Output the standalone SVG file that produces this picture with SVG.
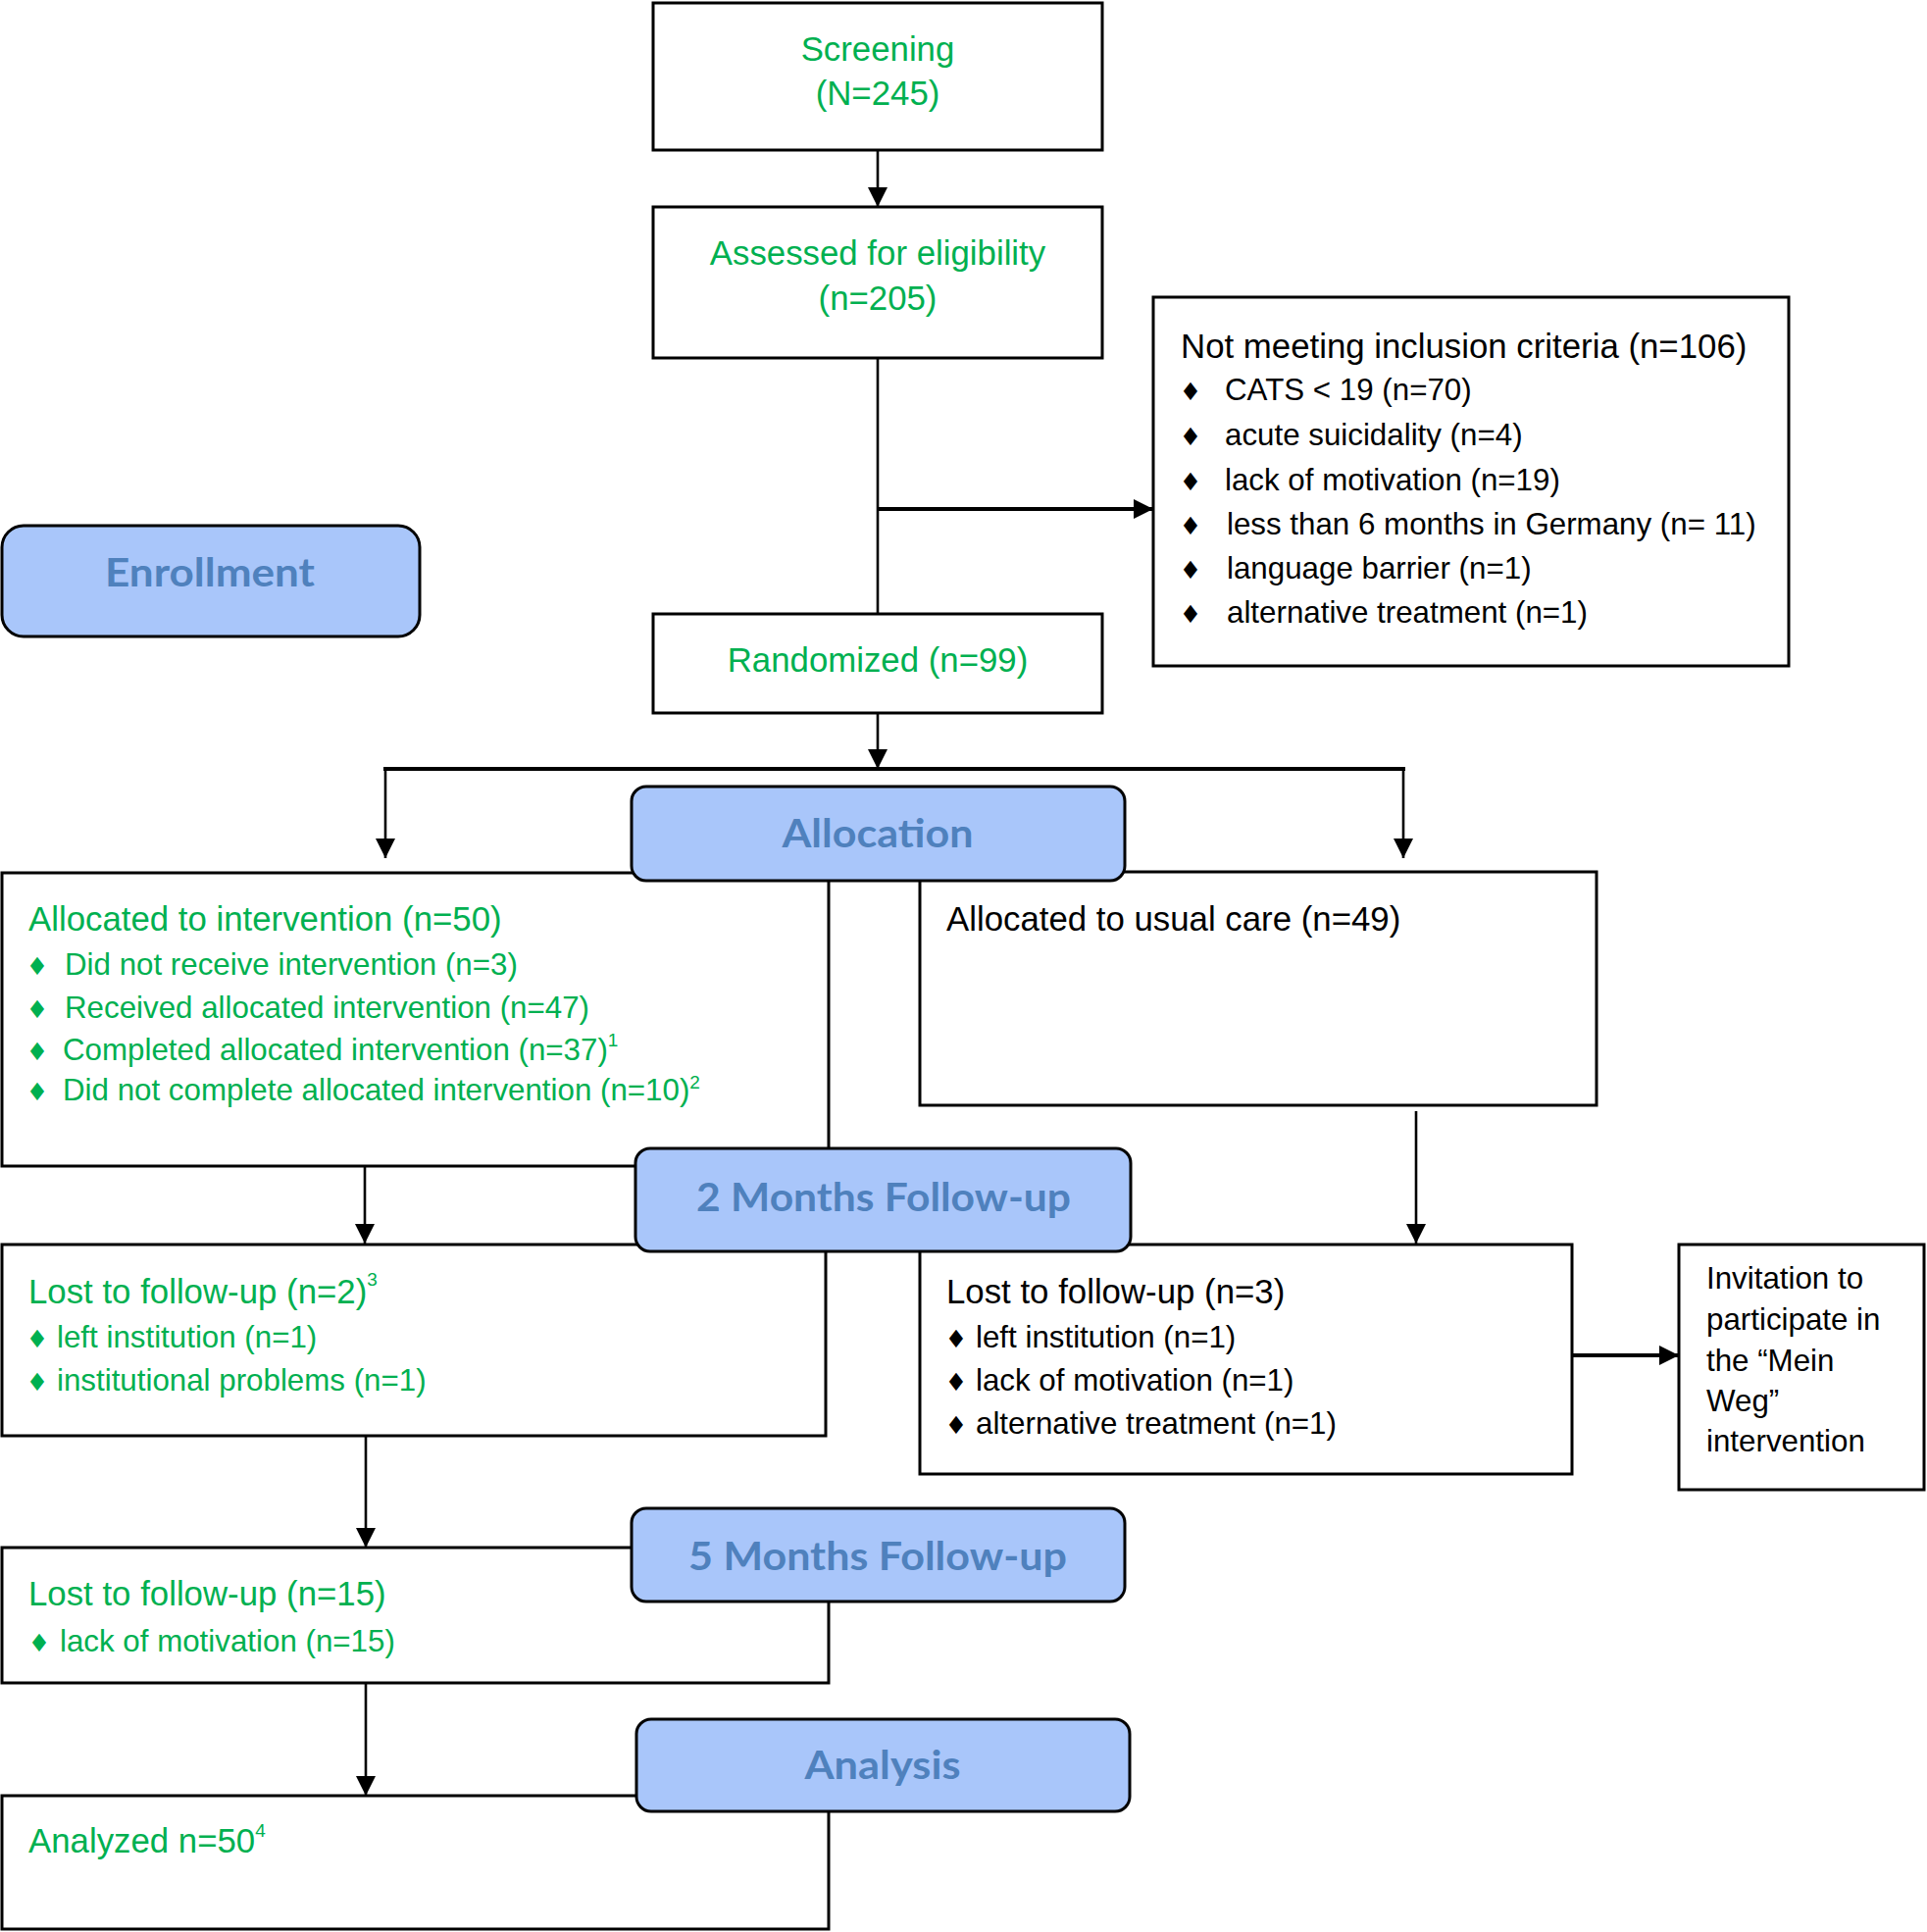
<svg xmlns="http://www.w3.org/2000/svg" xmlns:xlink="http://www.w3.org/1999/xlink" width="1965" height="1970" viewBox="0 0 1965 1970">
<style>
.box{fill:#fff;stroke:#000;stroke-width:3}
.hdr{fill:#A9C6FA;stroke:#000;stroke-width:3}
.ht{font-family:Lato,"Open Sans",sans-serif;font-weight:700;font-size:41px;fill:#4F81BD;text-anchor:middle}
.t{font-family:"Liberation Sans",Arial,sans-serif;font-size:34.8px}
.s{font-family:"Liberation Sans",Arial,sans-serif;font-size:31.3px}
.g{fill:#00B050}
.k{fill:#000}
.c{text-anchor:middle}
.b{font-family:"DejaVu Sans",sans-serif;font-size:25px;text-anchor:middle}
.ln{fill:none;stroke:#000;stroke-width:2.6}
.lt{fill:none;stroke:#000;stroke-width:4}
</style>
<defs>
<marker id="ah" markerWidth="20" markerHeight="20" refX="20" refY="10" orient="auto" markerUnits="userSpaceOnUse"><path d="M0,0 L20,10 L0,20 Z" fill="#000"/></marker>
</defs>

<g id="screening">
<rect class="box" x="666" y="3" width="458" height="150"/>
<text class="t g c" x="895" y="62">Screening</text>
<text class="t g c" x="895" y="107">(N=245)</text>
</g>

<g id="assessed">
<rect class="box" x="666" y="211" width="458" height="154"/>
<text class="t g c" x="895" y="270">Assessed for eligibility</text>
<text class="t g c" x="895" y="316">(n=205)</text>
</g>

<g id="not-meeting">
<rect class="box" x="1176" y="303" width="648" height="376"/>
<text class="t k" x="1204" y="365">Not meeting inclusion criteria (n=106)</text>
<text class="b k" x="1214" y="408">♦</text><text class="s k" x="1249" y="408">CATS &lt; 19 (n=70)</text>
<text class="b k" x="1214" y="454">♦</text><text class="s k" x="1249" y="454">acute suicidality (n=4)</text>
<text class="b k" x="1214" y="500">♦</text><text class="s k" x="1249" y="500">lack of motivation (n=19)</text>
<text class="b k" x="1214" y="545">♦</text><text class="s k" x="1251" y="545">less than 6 months in Germany (n= 11)</text>
<text class="b k" x="1214" y="590">♦</text><text class="s k" x="1251" y="590">language barrier (n=1)</text>
<text class="b k" x="1214" y="635">♦</text><text class="s k" x="1251" y="635">alternative treatment (n=1)</text>
</g>

<g id="enrollment">
<rect class="hdr" x="2" y="536" width="426" height="113" rx="22"/>
<text class="ht" x="214" y="598" textLength="214" lengthAdjust="spacingAndGlyphs">Enrollment</text>
</g>

<g id="randomized">
<rect class="box" x="666" y="626" width="458" height="101"/>
<text class="t g c" x="895" y="685">Randomized (n=99)</text>
</g>

<g id="allocated-intervention">
<rect class="box" x="2" y="890" width="843" height="299"/>
<text class="t g" x="29" y="949">Allocated to intervention (n=50)</text>
<text class="b g" x="38" y="994">♦</text><text class="s g" x="66" y="994">Did not receive intervention (n=3)</text>
<text class="b g" x="38" y="1038">♦</text><text class="s g" x="66" y="1038">Received allocated intervention (n=47)</text>
<text class="b g" x="38" y="1081">♦</text><text class="s g" x="64" y="1081">Completed allocated intervention (n=37)<tspan font-size="19" dy="-14">1</tspan></text>
<text class="b g" x="38" y="1122">♦</text><text class="s g" x="64" y="1122">Did not complete allocated intervention (n=10)<tspan font-size="19" dy="-12">2</tspan></text>
</g>

<g id="usual-care">
<rect class="box" x="938" y="889" width="690" height="238"/>
<text class="t k" x="965" y="949">Allocated to usual care (n=49)</text>
</g>

<g id="lost-left">
<rect class="box" x="2" y="1269" width="840" height="195"/>
<text class="t g" x="29" y="1329">Lost to follow-up (n=2)<tspan font-size="19" dy="-18">3</tspan></text>
<text class="b g" x="38" y="1374">♦</text><text class="s g" x="58" y="1374">left institution (n=1)</text>
<text class="b g" x="38" y="1418">♦</text><text class="s g" x="58" y="1418">institutional problems (n=1)</text>
</g>

<g id="lost-right">
<rect class="box" x="938" y="1269" width="665" height="234"/>
<text class="t k" x="965" y="1329">Lost to follow-up (n=3)</text>
<text class="b k" x="975" y="1374">♦</text><text class="s k" x="995" y="1374">left institution (n=1)</text>
<text class="b k" x="975" y="1418">♦</text><text class="s k" x="995" y="1418">lack of motivation (n=1)</text>
<text class="b k" x="975" y="1462">♦</text><text class="s k" x="995" y="1462">alternative treatment (n=1)</text>
</g>

<g id="invitation">
<rect class="box" x="1712" y="1269" width="250" height="250"/>
<text class="s k" x="1740" y="1314">Invitation to</text>
<text class="s k" x="1740" y="1356">participate in</text>
<text class="s k" x="1740" y="1398">the “Mein</text>
<text class="s k" x="1740" y="1439">Weg”</text>
<text class="s k" x="1740" y="1480">intervention</text>
</g>

<g id="lost-15">
<rect class="box" x="2" y="1578" width="843" height="138"/>
<text class="t g" x="29" y="1637">Lost to follow-up (n=15)</text>
<text class="b g" x="40" y="1684">♦</text><text class="s g" x="61" y="1684">lack of motivation (n=15)</text>
</g>

<g id="analyzed">
<rect class="box" x="2" y="1831" width="843" height="136"/>
<text class="t g" x="29" y="1889">Analyzed n=50<tspan font-size="19" dy="-16">4</tspan></text>
</g>

<g id="allocation">
<rect class="hdr" x="644" y="802" width="503" height="96" rx="15"/>
<text class="ht" x="895" y="864" textLength="195" lengthAdjust="spacingAndGlyphs">Allocation</text>
</g>

<g id="followup-2">
<rect class="hdr" x="648" y="1171" width="505" height="105" rx="15"/>
<text class="ht" x="901" y="1235" textLength="382" lengthAdjust="spacingAndGlyphs">2 Months Follow-up</text>
</g>

<g id="followup-5">
<rect class="hdr" x="644" y="1538" width="503" height="95" rx="15"/>
<text class="ht" x="895" y="1601" textLength="386" lengthAdjust="spacingAndGlyphs">5 Months Follow-up</text>
</g>

<g id="analysis">
<rect class="hdr" x="649" y="1753" width="503" height="94" rx="15"/>
<text class="ht" x="900" y="1814" textLength="159" lengthAdjust="spacingAndGlyphs">Analysis</text>
</g>

<g id="connectors">
<path class="ln" d="M895,153 V211" marker-end="url(#ah)"/>
<path class="ln" d="M895,365 V626"/>
<path class="lt" d="M895,519 H1176" marker-end="url(#ah)"/>
<path class="ln" d="M895,727 V784" marker-end="url(#ah)"/>
<path class="lt" d="M391,784 H1433"/>
<path class="ln" d="M393,784 V875" marker-end="url(#ah)"/>
<path class="ln" d="M1431,784 V875" marker-end="url(#ah)"/>
<path class="ln" d="M372,1189 V1268" marker-end="url(#ah)"/>
<path class="ln" d="M1444,1133 V1268" marker-end="url(#ah)"/>
<path class="lt" d="M1603,1382 H1712" marker-end="url(#ah)"/>
<path class="ln" d="M373,1464 V1578" marker-end="url(#ah)"/>
<path class="ln" d="M373,1716 V1831" marker-end="url(#ah)"/>
</g>
</svg>
